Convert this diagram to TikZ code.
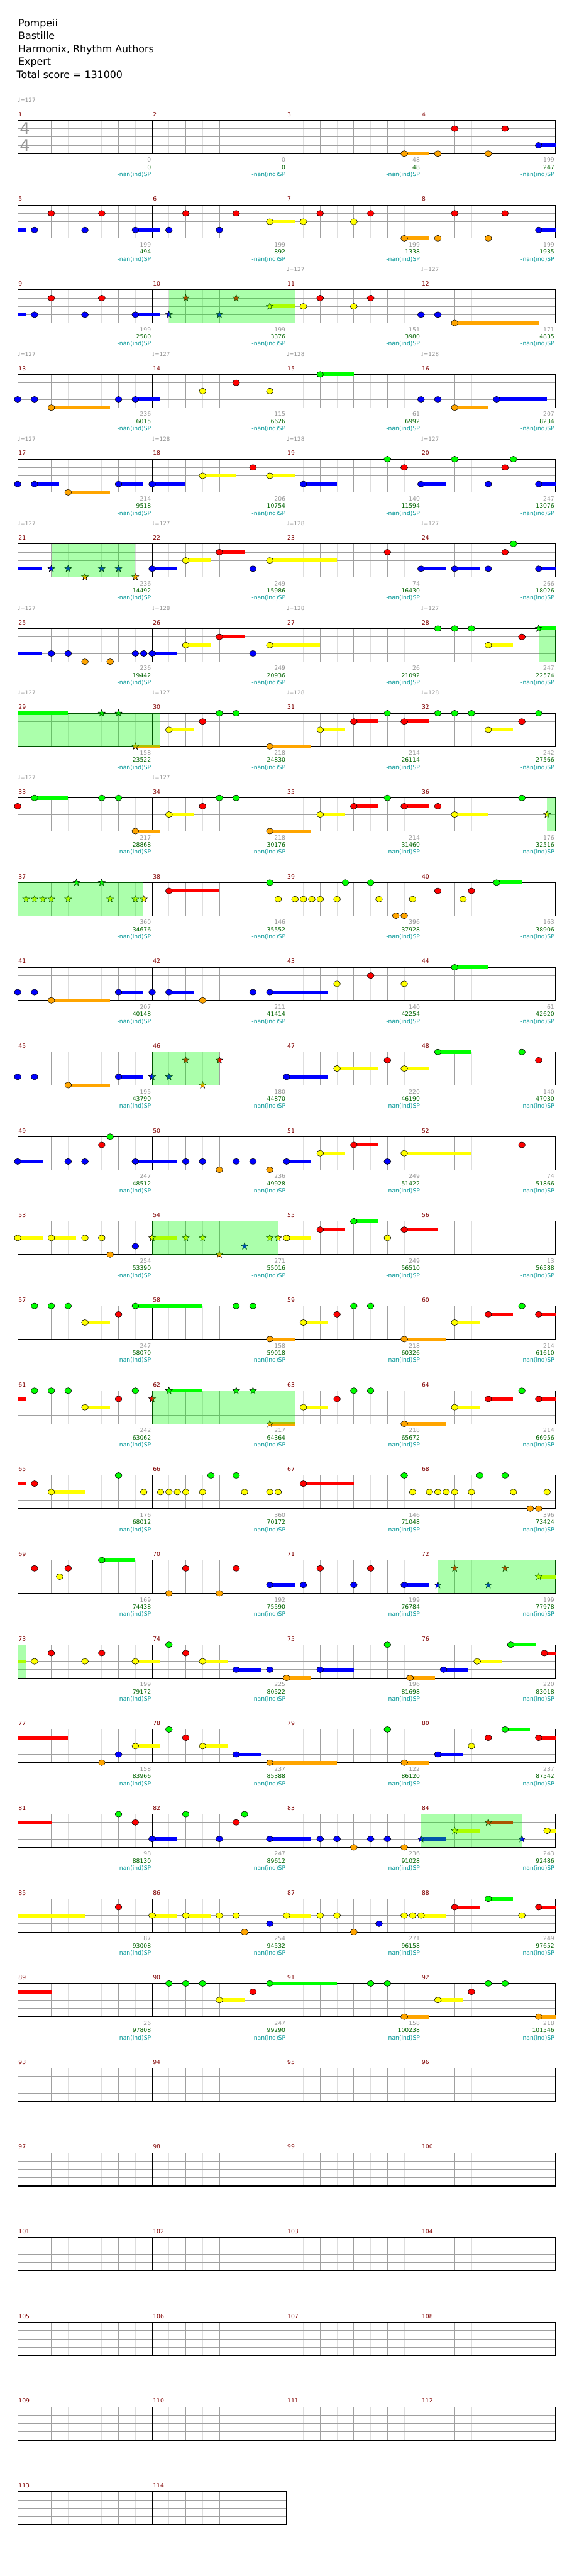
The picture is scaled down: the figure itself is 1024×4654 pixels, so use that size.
\documentclass[tikz,border=0pt]{standalone}
\usepackage{fontspec}
\setmainfont{DejaVu Sans}
\usetikzlibrary{shapes.geometric}
\definecolor{c0}{RGB}{0,255,0}
\definecolor{c1}{RGB}{255,0,0}
\definecolor{c2}{RGB}{255,255,0}
\definecolor{c3}{RGB}{0,0,255}
\definecolor{c4}{RGB}{255,165,0}
\definecolor{mnum}{RGB}{128,0,0}
\definecolor{lgray}{RGB}{150,150,150}
\definecolor{lgreen}{RGB}{0,100,0}
\definecolor{lteal}{RGB}{0,150,150}
\definecolor{gridgray}{RGB}{160,160,160}
\definecolor{gridlight}{RGB}{222,222,222}
\definecolor{spg}{RGB}{0,255,0}
\pgfdeclarelayer{bg}\pgfdeclarelayer{grid}\pgfdeclarelayer{sus}\pgfdeclarelayer{sp}
\pgfsetlayers{bg,grid,sus,main,sp}
\tikzset{
 note/.style={ellipse, draw=black, line width=0.6pt, minimum width=12.5pt, minimum height=10.5pt, inner sep=0pt},
 starnote/.style={star, star points=5, star point ratio=2.4, draw=black, line width=0.6pt, minimum size=13pt, inner sep=0pt},
 lab/.style={font=\fontsize{10.5}{12}\selectfont, inner sep=0pt},
 mn/.style={font=\fontsize{10.5}{12}\selectfont, inner sep=0pt, text=mnum},
 tempo/.style={font=\fontsize{10}{12}\selectfont, inner sep=0pt, text=lgray},
 title/.style={font=\fontsize{18}{20}\selectfont, inner sep=0pt, anchor=base west},
 spfill/.style={fill=spg, fill opacity=0.33},
}
\newcommand\NT[2]{\node[note,fill=c#2] at (#1,#2) {};}
\newcommand\ST[2]{\node[starnote,fill=c#2] at (#1,#2) {};}
\newcommand\SU[3]{\begin{pgfonlayer}{sus}\fill[c#3] (#1,#3-0.22) rectangle (#2,#3+0.22);\end{pgfonlayer}}
\newcommand\SPR[2]{\begin{pgfonlayer}{sp}\fill[spfill] (#1,0) rectangle (#2,4);\end{pgfonlayer}}
\newcommand\LB[3]{%
 \node[lab,text=lgray,anchor=base east] at (4*#1-0.03,5.03) {#2};
 \node[lab,text=lgreen,anchor=base east] at (4*#1-0.03,5.9) {#3};
 \node[lab,text=lteal,anchor=base east] at (4*#1-0.03,6.75) {-nan(ind)SP};}
\newcommand\TP[2]{\node[tempo,anchor=base west] at (4*#1-4,-2.2) {♩=#2};}
\newcommand\drawgrid[2]{%
 \pgfmathtruncatemacro\W{4*#1}%
 \begin{pgfonlayer}{grid}
 \foreach \i in {1,...,\W}{\draw[gridlight,line width=0.8pt] (\i-0.5,0)--(\i-0.5,4);}
 \foreach \i in {1,...,\W}{\draw[gridgray,line width=0.8pt] (\i,0)--(\i,4);}
 \foreach \i in {1,2,3}{\draw[gridgray,line width=0.9pt] (0,\i)--(\W,\i);}
 \foreach \k in {1,...,#1}{\draw[black,line width=0.9pt] (4*\k,0)--(4*\k,4);}
 \draw[black,line width=1.2pt] (0,0) rectangle (\W,4);
 \end{pgfonlayer}
 \foreach \k in {1,...,#1}{\pgfmathtruncatemacro\m{#2+\k-1}\node[mn,anchor=base west] at (4*\k-4+0.02,-0.47) {\m};}
}
\newcommand\chartrow[4]{%
 \begin{scope}[shift={(32pt,{-(217.5+153*#1)*1pt})},x=60.75pt,y=-15pt]
 \drawgrid{#2}{#3}
 #4
 \end{scope}}
\begin{document}
\begin{tikzpicture}
\begin{pgfonlayer}{bg}
\fill[white] (0pt,0pt) rectangle (1024pt,-4654pt);
\end{pgfonlayer}
\useasboundingbox (0pt,0pt) rectangle (1024pt,-4654pt);
\node[title] (t1) at (33pt,-48.3pt) {Pompeii};
\node[title] (t2) at (33pt,-71.5pt) {Bastille};
\node[title] (t3) at (33pt,-94.7pt) {Harmonix, Rhythm Authors};
\node[title] (t4) at (33pt,-117.9pt) {Expert};
\node[title] (t5) at (30pt,-141.1pt) {Total score = 131000};
% row 0
\chartrow{0}{4}{1}{\TP{1}{127}
 \node[font=\fontsize{29}{30}\selectfont,text=lgray,inner sep=0pt] (ts1) at (0.21,1) {4};
 \node[font=\fontsize{29}{30}\selectfont,text=lgray,inner sep=0pt] (ts2) at (0.21,3) {4};
 \SU{11.5}{12.25}{4}\NT{11.5}{4}\NT{12.5}{4}\NT{13}{1}\NT{14}{4}\NT{14.5}{1}\SU{15.5}{16}{3}\NT{15.5}{3}
 \LB{1}{0}{0}\LB{2}{0}{0}\LB{3}{48}{48}\LB{4}{199}{247}}
\chartrow{1}{4}{5}{
 \SU{0}{0.24}{3}\NT{0.5}{3}\NT{1}{1}\NT{2}{3}\NT{2.5}{1}\SU{3.5}{4.24}{3}\NT{3.5}{3}\NT{4.5}{3}\NT{5}{1}\NT{6}{3}\NT{6.5}{1}\SU{7.5}{8.24}{2}\NT{7.5}{2}\NT{8.5}{2}\NT{9}{1}\NT{10}{2}\NT{10.5}{1}\SU{11.5}{12.24}{4}\NT{11.5}{4}\NT{12.5}{4}\NT{13}{1}\NT{14}{4}\NT{14.5}{1}\SU{15.5}{16}{3}\NT{15.5}{3}
 \LB{1}{199}{494}\LB{2}{199}{892}\LB{3}{199}{1338}\LB{4}{199}{1935}}
\chartrow{2}{4}{9}{\TP{3}{127}\TP{4}{127}
 \SU{0}{0.24}{3}\NT{0.5}{3}\NT{1}{1}\NT{2}{3}\NT{2.5}{1}\SU{3.5}{4.24}{3}\NT{3.5}{3}\SPR{4.5}{8.24}\ST{4.5}{3}\ST{5}{1}\ST{6}{3}\ST{6.5}{1}\SU{7.5}{8.24}{2}\ST{7.5}{2}\NT{8.5}{2}\NT{9}{1}\NT{10}{2}\NT{10.5}{1}\NT{12}{3}\NT{12.5}{3}\SU{13}{15.5}{4}\NT{13}{4}
 \LB{1}{199}{2580}\LB{2}{199}{3376}\LB{3}{151}{3980}\LB{4}{171}{4835}}
\chartrow{3}{4}{13}{\TP{1}{127}\TP{2}{127}\TP{3}{128}\TP{4}{128}
 \NT{0}{3}\NT{0.5}{3}\SU{1}{2.75}{4}\NT{1}{4}\NT{3}{3}\SU{3.5}{4.24}{3}\NT{3.5}{3}\NT{5.5}{2}\NT{6.5}{1}\NT{7.5}{2}\SU{9}{10}{0}\NT{9}{0}\NT{12}{3}\NT{12.5}{3}\SU{13}{14}{4}\NT{13}{4}\SU{14.25}{15.74}{3}\NT{14.25}{3}
 \LB{1}{236}{6015}\LB{2}{115}{6626}\LB{3}{61}{6992}\LB{4}{207}{8234}}
\chartrow{4}{4}{17}{\TP{1}{127}\TP{2}{128}\TP{3}{128}\TP{4}{127}
 \NT{0}{3}\SU{0.5}{1.24}{3}\NT{0.5}{3}\SU{1.5}{2.74}{4}\NT{1.5}{4}\SU{3}{3.74}{3}\NT{3}{3}\SU{4}{5}{3}\NT{4}{3}\SU{5.5}{6.5}{2}\NT{5.5}{2}\NT{7}{1}\SU{7.5}{8.24}{2}\NT{7.5}{2}\SU{8.5}{9.49}{3}\NT{8.5}{3}\NT{11}{0}\NT{11.5}{1}\SU{12}{12.74}{3}\NT{12}{3}\NT{13}{0}\NT{14}{3}\NT{14.5}{1}\NT{14.75}{0}\SU{15.5}{16}{3}\NT{15.5}{3}
 \LB{1}{214}{9518}\LB{2}{206}{10754}\LB{3}{140}{11594}\LB{4}{247}{13076}}
\chartrow{5}{4}{21}{\TP{1}{127}\TP{2}{127}\TP{3}{128}\TP{4}{127}
 \SU{0}{0.73}{3}\SPR{1}{3.5}\ST{1}{3}\ST{1.5}{3}\ST{2}{4}\ST{2.5}{3}\ST{3}{3}\ST{3.5}{4}\SU{4}{4.74}{3}\NT{4}{3}\SU{5}{5.74}{2}\NT{5}{2}\SU{6}{6.74}{1}\NT{6}{1}\NT{7}{3}\SU{7.5}{9.49}{2}\NT{7.5}{2}\NT{11}{1}\SU{12}{12.74}{3}\NT{12}{3}\SU{13}{13.74}{3}\NT{13}{3}\NT{14}{3}\NT{14.5}{1}\NT{14.75}{0}\SU{15.5}{16}{3}\NT{15.5}{3}
 \LB{1}{236}{14492}\LB{2}{249}{15986}\LB{3}{74}{16430}\LB{4}{266}{18026}}
\chartrow{6}{4}{25}{\TP{1}{127}\TP{2}{128}\TP{3}{128}\TP{4}{127}
 \SU{0}{0.73}{3}\NT{1}{3}\NT{1.5}{3}\NT{2}{4}\NT{2.75}{4}\NT{3.5}{3}\NT{3.75}{3}\SU{4}{4.74}{3}\NT{4}{3}\SU{5}{5.74}{2}\NT{5}{2}\SU{6}{6.74}{1}\NT{6}{1}\NT{7}{3}\SU{7.5}{8.99}{2}\NT{7.5}{2}\NT{12.5}{0}\NT{13}{0}\NT{13.5}{0}\SU{14}{14.74}{2}\NT{14}{2}\NT{15}{1}\SPR{15.5}{16}\SU{15.5}{16}{0}\ST{15.5}{0}
 \LB{1}{236}{19442}\LB{2}{249}{20936}\LB{3}{26}{21092}\LB{4}{247}{22574}}
\chartrow{7}{4}{29}{\TP{1}{127}\TP{2}{127}\TP{3}{128}\TP{4}{128}
 \SU{0}{1.49}{0}\SPR{0}{4.24}\ST{2.5}{0}\ST{3}{0}\SU{3.5}{4.24}{4}\ST{3.5}{4}\SU{4.5}{5.24}{2}\NT{4.5}{2}\NT{5.5}{1}\NT{6}{0}\NT{6.5}{0}\SU{7.5}{8.74}{4}\NT{7.5}{4}\SU{9}{9.74}{2}\NT{9}{2}\SU{10}{10.74}{1}\NT{10}{1}\NT{11}{0}\SU{11.5}{12.24}{1}\NT{11.5}{1}\NT{12.5}{0}\NT{13}{0}\NT{13.5}{0}\SU{14}{14.74}{2}\NT{14}{2}\NT{15}{1}\NT{15.5}{0}
 \LB{1}{158}{23522}\LB{2}{218}{24830}\LB{3}{214}{26114}\LB{4}{242}{27566}}
\chartrow{8}{4}{33}{\TP{1}{127}\TP{2}{127}
 \NT{0}{1}\SU{0.5}{1.49}{0}\NT{0.5}{0}\NT{2.5}{0}\NT{3}{0}\SU{3.5}{4.24}{4}\NT{3.5}{4}\SU{4.5}{5.24}{2}\NT{4.5}{2}\NT{5.5}{1}\NT{6}{0}\NT{6.5}{0}\SU{7.5}{8.74}{4}\NT{7.5}{4}\SU{9}{9.74}{2}\NT{9}{2}\SU{10}{10.74}{1}\NT{10}{1}\NT{11}{0}\SU{11.5}{12.24}{1}\NT{11.5}{1}\NT{12.5}{1}\SU{13}{14}{2}\NT{13}{2}\NT{15}{0}\SPR{15.75}{16}\ST{15.75}{2}
 \LB{1}{217}{28868}\LB{2}{218}{30176}\LB{3}{214}{31460}\LB{4}{176}{32516}}
\chartrow{9}{4}{37}{
 \SPR{0}{3.74}\ST{1.75}{0}\ST{2.5}{0}\ST{0.25}{2}\ST{0.5}{2}\ST{0.75}{2}\ST{1}{2}\ST{1.5}{2}\ST{2.75}{2}\ST{3.5}{2}\ST{3.75}{2}\SU{4.5}{6}{1}\NT{4.5}{1}\NT{7.5}{0}\NT{7.75}{2}\NT{8.25}{2}\NT{8.5}{2}\NT{8.75}{2}\NT{9}{2}\NT{9.5}{2}\NT{9.75}{0}\NT{10.5}{0}\NT{10.75}{2}\NT{11.25}{4}\NT{11.5}{4}\NT{11.75}{2}\NT{12.5}{1}\NT{13.25}{2}\NT{13.5}{1}\SU{14.25}{15}{0}\NT{14.25}{0}
 \LB{1}{360}{34676}\LB{2}{146}{35552}\LB{3}{396}{37928}\LB{4}{163}{38906}}
\chartrow{10}{4}{41}{
 \NT{0}{3}\NT{0.5}{3}\SU{1}{2.74}{4}\NT{1}{4}\SU{3}{3.74}{3}\NT{3}{3}\NT{4}{3}\SU{4.5}{5.24}{3}\NT{4.5}{3}\NT{5.5}{4}\NT{7}{3}\SU{7.5}{9.24}{3}\NT{7.5}{3}\NT{9.5}{2}\NT{10.5}{1}\NT{11.5}{2}\SU{13}{14}{0}\NT{13}{0}
 \LB{1}{207}{40148}\LB{2}{211}{41414}\LB{3}{140}{42254}\LB{4}{61}{42620}}
\chartrow{11}{4}{45}{
 \NT{0}{3}\NT{0.5}{3}\SU{1.5}{2.74}{4}\NT{1.5}{4}\SU{3}{3.74}{3}\NT{3}{3}\SPR{4}{6}\ST{4}{3}\ST{4.5}{3}\ST{5}{1}\ST{5.5}{4}\ST{6}{1}\SU{8}{9.24}{3}\NT{8}{3}\SU{9.5}{10.74}{2}\NT{9.5}{2}\NT{11}{1}\SU{11.5}{12.24}{2}\NT{11.5}{2}\SU{12.5}{13.5}{0}\NT{12.5}{0}\NT{15}{0}\NT{15.5}{1}
 \LB{1}{195}{43790}\LB{2}{180}{44870}\LB{3}{220}{46190}\LB{4}{140}{47030}}
\chartrow{12}{4}{49}{
 \SU{0}{0.74}{3}\NT{0}{3}\NT{1.5}{3}\NT{2}{3}\NT{2.5}{1}\NT{2.75}{0}\SU{3.5}{4.74}{3}\NT{3.5}{3}\NT{5}{3}\NT{5.5}{3}\NT{6}{4}\NT{6.5}{3}\NT{7}{3}\NT{7.5}{4}\SU{8}{8.74}{3}\NT{8}{3}\SU{9}{9.74}{2}\NT{9}{2}\SU{10}{10.74}{1}\NT{10}{1}\NT{11}{3}\SU{11.5}{13.5}{2}\NT{11.5}{2}\NT{15}{1}
 \LB{1}{247}{48512}\LB{2}{236}{49928}\LB{3}{249}{51422}\LB{4}{74}{51866}}
\chartrow{13}{4}{53}{
 \SU{0}{0.74}{2}\NT{0}{2}\SU{1}{1.74}{2}\NT{1}{2}\NT{2}{2}\NT{2.5}{2}\NT{2.75}{4}\NT{3.5}{3}\SPR{4}{7.75}\SU{4}{4.74}{2}\ST{4}{2}\ST{5}{2}\ST{5.5}{2}\ST{6}{4}\ST{6.75}{3}\ST{7.5}{2}\ST{7.75}{2}\SU{8}{8.74}{2}\NT{8}{2}\SU{9}{9.74}{1}\NT{9}{1}\SU{10}{10.74}{0}\NT{10}{0}\NT{11}{2}\SU{11.5}{12.5}{1}\NT{11.5}{1}
 \LB{1}{254}{53390}\LB{2}{271}{55016}\LB{3}{249}{56510}\LB{4}{13}{56588}}
\chartrow{14}{4}{57}{
 \NT{0.5}{0}\NT{1}{0}\NT{1.5}{0}\SU{2}{2.74}{2}\NT{2}{2}\NT{3}{1}\SU{3.5}{5.5}{0}\NT{3.5}{0}\NT{6.5}{0}\NT{7}{0}\SU{7.5}{8.24}{4}\NT{7.5}{4}\SU{8.5}{9.24}{2}\NT{8.5}{2}\NT{9.5}{1}\NT{10}{0}\NT{10.5}{0}\SU{11.5}{12.74}{4}\NT{11.5}{4}\SU{13}{13.74}{2}\NT{13}{2}\SU{14}{14.74}{1}\NT{14}{1}\NT{15}{0}\SU{15.5}{16}{1}\NT{15.5}{1}
 \LB{1}{247}{58070}\LB{2}{158}{59018}\LB{3}{218}{60326}\LB{4}{214}{61610}}
\chartrow{15}{4}{61}{
 \SU{0}{0.24}{1}\NT{0.5}{0}\NT{1}{0}\NT{1.5}{0}\SU{2}{2.74}{2}\NT{2}{2}\NT{3}{1}\NT{3.5}{0}\SPR{4}{8.24}\ST{4}{1}\SU{4.5}{5.5}{0}\ST{4.5}{0}\ST{6.5}{0}\ST{7}{0}\SU{7.5}{8.24}{4}\ST{7.5}{4}\SU{8.5}{9.24}{2}\NT{8.5}{2}\NT{9.5}{1}\NT{10}{0}\NT{10.5}{0}\SU{11.5}{12.74}{4}\NT{11.5}{4}\SU{13}{13.74}{2}\NT{13}{2}\SU{14}{14.74}{1}\NT{14}{1}\NT{15}{0}\SU{15.5}{16}{1}\NT{15.5}{1}
 \LB{1}{242}{63062}\LB{2}{217}{64364}\LB{3}{218}{65672}\LB{4}{214}{66956}}
\chartrow{16}{4}{65}{
 \SU{0}{0.24}{1}\NT{0.5}{1}\SU{1}{2}{2}\NT{1}{2}\NT{3}{0}\NT{3.75}{2}\NT{4.25}{2}\NT{4.5}{2}\NT{4.75}{2}\NT{5}{2}\NT{5.5}{2}\NT{5.75}{0}\NT{6.5}{0}\NT{6.75}{2}\NT{7.5}{2}\NT{7.75}{2}\SU{8.5}{10}{1}\NT{8.5}{1}\NT{11.5}{0}\NT{11.75}{2}\NT{12.25}{2}\NT{12.5}{2}\NT{12.75}{2}\NT{13}{2}\NT{13.5}{2}\NT{13.75}{0}\NT{14.5}{0}\NT{14.75}{2}\NT{15.25}{4}\NT{15.5}{4}\NT{15.75}{2}
 \LB{1}{176}{68012}\LB{2}{360}{70172}\LB{3}{146}{71048}\LB{4}{396}{73424}}
\chartrow{17}{4}{69}{
 \NT{0.5}{1}\NT{1.25}{2}\NT{1.5}{1}\SU{2.5}{3.5}{0}\NT{2.5}{0}\NT{4.5}{4}\NT{5}{1}\NT{6}{4}\NT{6.5}{1}\SU{7.5}{8.24}{3}\NT{7.5}{3}\NT{8.5}{3}\NT{9}{1}\NT{10}{3}\NT{10.5}{1}\SU{11.5}{12.24}{3}\NT{11.5}{3}\SPR{12.5}{16}\ST{12.5}{3}\ST{13}{1}\ST{14}{3}\ST{14.5}{1}\SU{15.5}{16}{2}\ST{15.5}{2}
 \LB{1}{169}{74438}\LB{2}{192}{75590}\LB{3}{199}{76784}\LB{4}{199}{77978}}
\chartrow{18}{4}{73}{
 \SPR{0}{0.24}\SU{0}{0.24}{2}\NT{0.5}{2}\NT{1}{1}\NT{2}{2}\NT{2.5}{1}\SU{3.5}{4.24}{2}\NT{3.5}{2}\NT{4.5}{0}\NT{5}{1}\SU{5.5}{6.24}{2}\NT{5.5}{2}\SU{6.5}{7.24}{3}\NT{6.5}{3}\NT{7.5}{3}\SU{8}{8.74}{4}\NT{8}{4}\SU{9}{10}{3}\NT{9}{3}\NT{11}{0}\SU{11.67}{12.41}{4}\NT{11.67}{4}\SU{12.67}{13.41}{3}\NT{12.67}{3}\SU{13.67}{14.41}{2}\NT{13.67}{2}\SU{14.67}{15.41}{0}\NT{14.67}{0}\SU{15.67}{16}{1}\NT{15.67}{1}
 \LB{1}{199}{79172}\LB{2}{225}{80522}\LB{3}{196}{81698}\LB{4}{220}{83018}}
\chartrow{19}{4}{77}{
 \SU{0}{1.49}{1}\NT{2.5}{4}\NT{3}{3}\SU{3.5}{4.24}{2}\NT{3.5}{2}\NT{4.5}{0}\NT{5}{1}\SU{5.5}{6.24}{2}\NT{5.5}{2}\SU{6.5}{7.24}{3}\NT{6.5}{3}\SU{7.5}{9.49}{4}\NT{7.5}{4}\NT{11}{0}\SU{11.5}{12.24}{4}\NT{11.5}{4}\SU{12.5}{13.24}{3}\NT{12.5}{3}\NT{13.5}{2}\NT{14}{1}\SU{14.5}{15.24}{0}\NT{14.5}{0}\SU{15.5}{16}{1}\NT{15.5}{1}
 \LB{1}{158}{83966}\LB{2}{237}{85388}\LB{3}{122}{86120}\LB{4}{237}{87542}}
\chartrow{20}{4}{81}{
 \SU{0}{1}{1}\NT{3}{0}\NT{3.5}{1}\SU{4}{4.74}{3}\NT{4}{3}\NT{5}{0}\NT{6}{3}\NT{6.5}{1}\NT{6.75}{0}\SU{7.5}{8.74}{3}\NT{7.5}{3}\NT{9}{3}\NT{9.5}{3}\NT{10}{4}\NT{10.5}{3}\NT{11}{3}\NT{11.5}{4}\SPR{12}{15}\SU{12}{12.74}{3}\ST{12}{3}\SU{13}{13.74}{2}\ST{13}{2}\SU{14}{14.74}{1}\ST{14}{1}\ST{15}{3}\SU{15.75}{16}{2}\NT{15.75}{2}
 \LB{1}{98}{88130}\LB{2}{247}{89612}\LB{3}{236}{91028}\LB{4}{243}{92486}}
\chartrow{21}{4}{85}{
 \SU{0}{2}{2}\NT{3}{1}\SU{4}{4.74}{2}\NT{4}{2}\SU{5}{5.74}{2}\NT{5}{2}\NT{6}{2}\NT{6.5}{2}\NT{6.75}{4}\NT{7.5}{3}\SU{8}{8.74}{2}\NT{8}{2}\NT{9}{2}\NT{9.5}{2}\NT{10}{4}\NT{10.75}{3}\NT{11.5}{2}\NT{11.75}{2}\SU{12}{12.74}{2}\NT{12}{2}\SU{13}{13.74}{1}\NT{13}{1}\SU{14}{14.74}{0}\NT{14}{0}\NT{15}{2}\SU{15.5}{16}{1}\NT{15.5}{1}
 \LB{1}{87}{93008}\LB{2}{254}{94532}\LB{3}{271}{96158}\LB{4}{249}{97652}}
\chartrow{22}{4}{89}{
 \SU{0}{1}{1}\NT{4.5}{0}\NT{5}{0}\NT{5.5}{0}\SU{6}{6.74}{2}\NT{6}{2}\NT{7}{1}\SU{7.5}{9.49}{0}\NT{7.5}{0}\NT{10.5}{0}\NT{11}{0}\SU{11.5}{12.24}{4}\NT{11.5}{4}\SU{12.5}{13.24}{2}\NT{12.5}{2}\NT{13.5}{1}\NT{14}{0}\NT{14.5}{0}\SU{15.5}{16}{4}\NT{15.5}{4}
 \LB{1}{26}{97808}\LB{2}{247}{99290}\LB{3}{158}{100238}\LB{4}{218}{101546}}
\chartrow{23}{4}{93}{}
\chartrow{24}{4}{97}{}
\chartrow{25}{4}{101}{}
\chartrow{26}{4}{105}{}
\chartrow{27}{4}{109}{}
\chartrow{28}{2}{113}{}
\end{tikzpicture}
\end{document}
